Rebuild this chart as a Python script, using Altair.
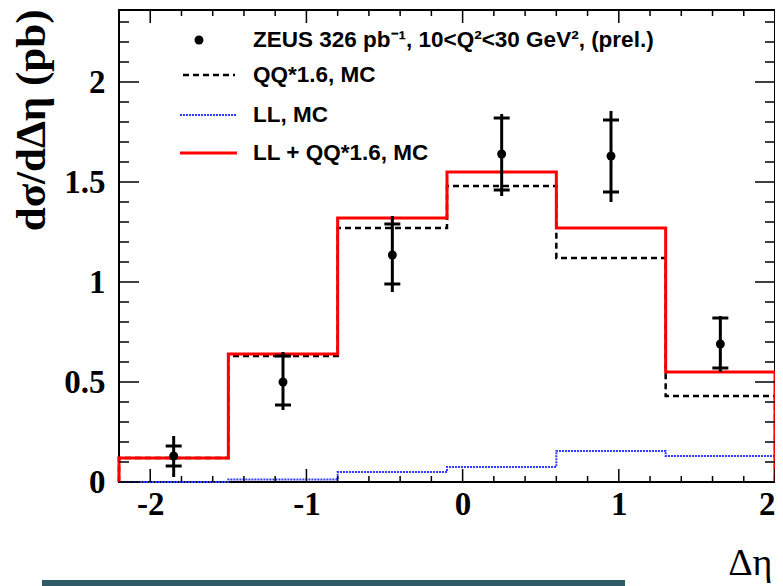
import altair as alt
import pandas as pd

# ---------------- data ----------------
edges = [-2.2, -1.5, -0.8, -0.1, 0.6, 1.3, 2.0]
ll_qq = [0.12, 0.64, 1.32, 1.55, 1.27, 0.55]   # LL + QQ*1.6, MC (red)
qq = [0.12, 0.63, 1.27, 1.48, 1.12, 0.43]      # QQ*1.6, MC (dashed)
ll = [0.0, 0.013, 0.05, 0.075, 0.155, 0.13]    # LL, MC (blue dotted)

x_data = [-1.85, -1.15, -0.45, 0.25, 0.95, 1.65]
y_data = [0.13, 0.50, 1.135, 1.64, 1.63, 0.69]
stat_lo = [0.08, 0.385, 0.99, 1.46, 1.45, 0.57]
stat_hi = [0.18, 0.63, 1.29, 1.82, 1.81, 0.82]
tot_lo = [0.025, 0.36, 0.95, 1.43, 1.40, 0.55]
tot_hi = [0.23, 0.65, 1.33, 1.84, 1.855, 0.83]

x_major = [-2, -1, 0, 1, 2]
x_minor = [-1.8, -1.6, -1.4, -1.2, -0.8, -0.6, -0.4, -0.2,
           0.2, 0.4, 0.6, 0.8, 1.2, 1.4, 1.6, 1.8]
y_major = [0, 0.5, 1, 1.5, 2]
y_minor = [0.1, 0.2, 0.3, 0.4, 0.6, 0.7, 0.8, 0.9, 1.1, 1.2, 1.3, 1.4,
           1.6, 1.7, 1.8, 1.9, 2.1, 2.2, 2.3]

legend_labels = [
    "ZEUS 326 pb\u207b\u00b9, 10<Q\u00b2<30 GeV\u00b2, (prel.)",
    "QQ*1.6, MC",
    "LL, MC",
    "LL + QQ*1.6, MC",
]

W, H = 656, 472
SERIF = "Liberation Serif"
SANS = "Liberation Sans"

xs = alt.Scale(domain=[edges[0], edges[-1]], nice=False, zero=False)
ys = alt.Scale(domain=[0, 2.36], nice=False, zero=False)


def step_df(vals):
    px = [edges[0]] + edges[:-1] + [edges[-1], edges[-1]]
    py = [0] + list(vals) + [vals[-1], 0]
    return pd.DataFrame({"x": px, "y": py, "i": list(range(len(px)))})


def x_axis():
    return alt.Axis(
        values=x_major,
        labelExpr="datum.value < 0 ? '-' + abs(datum.value) : '' + datum.value",
        labelFont=SERIF, labelFontWeight="bold", labelFontSize=33, labelColor="black",
        labelPadding=6, ticks=False, domain=False, grid=False,
        title="\u0394\u03b7", titleFont=SERIF, titleFontWeight="normal", titleFontSize=38,
        titleColor="black", titleX=653, titleY=92, titleAlign="right",
        titleBaseline="alphabetic",
    )


def y_axis():
    return alt.Axis(
        values=y_major,
        labelExpr="'' + datum.value",
        labelFont=SERIF, labelFontWeight="bold", labelFontSize=33, labelColor="black",
        labelPadding=14, ticks=False, domain=False, grid=False,
        title="d\u03c3/d\u0394\u03b7 (pb)", titleFont=SERIF, titleFontWeight="bold",
        titleFontSize=43, titleColor="black", titleAngle=270, titleX=-75, titleY=-1,
        titleAlign="right", titleBaseline="alphabetic",
    )


def X(field):
    return alt.X(field, scale=xs, axis=x_axis(), title="\u0394\u03b7")


def Y(field):
    return alt.Y(field, scale=ys, axis=y_axis(), title="d\u03c3/d\u0394\u03b7 (pb)")


def step_layer(vals, color, width, dash=None):
    kw = dict(interpolate="step-after", color=color, strokeWidth=width)
    if dash is not None:
        kw["strokeDash"] = dash
    return alt.Chart(step_df(vals)).mark_line(**kw).encode(
        x=X("x:Q"), y=Y("y:Q"), order="i:Q",
    )


blue = step_layer(ll, "#2f3cff", 2, [2, 1])
black = step_layer(qq, "black", 2.5, [6, 4])
red = step_layer(ll_qq, "#ff0000", 3)

pts = pd.DataFrame({"x": x_data, "y": y_data, "lo": tot_lo, "hi": tot_hi})
err = alt.Chart(pts).mark_rule(color="black", strokeWidth=3).encode(
    x=X("x:Q"), y=Y("lo:Q"), y2="hi:Q",
)
stat = pd.DataFrame({"x": x_data + x_data, "y": stat_lo + stat_hi})
stat_ticks = alt.Chart(stat).mark_tick(
    orient="horizontal", size=16, thickness=3, color="black", opacity=1
).encode(x=X("x:Q"), y=Y("y:Q"))
dots = alt.Chart(pts).mark_circle(size=80, color="black", opacity=1).encode(
    x=X("x:Q"), y=Y("y:Q"),
)


# ---- ROOT-style inside ticks on all four sides ----
def xticks(vals, length):
    d = pd.DataFrame({"v": vals})
    bottom = alt.Chart(d).mark_rule(color="black", strokeWidth=1.5).encode(
        x=X("v:Q"), y=alt.value(H), y2=alt.value(H - length),
    )
    top = alt.Chart(d).mark_rule(color="black", strokeWidth=1.5).encode(
        x=X("v:Q"), y=alt.value(0), y2=alt.value(length),
    )
    return [bottom, top]


def yticks(vals, length):
    d = pd.DataFrame({"v": vals})
    left = alt.Chart(d).mark_rule(color="black", strokeWidth=1.5).encode(
        y=Y("v:Q"), x=alt.value(0), x2=alt.value(length),
    )
    right = alt.Chart(d).mark_rule(color="black", strokeWidth=1.5).encode(
        y=Y("v:Q"), x=alt.value(W), x2=alt.value(W - length),
    )
    return [left, right]


ticks = xticks(x_major, 13) + xticks(x_minor, 6) + yticks(y_major, 20) + yticks(y_minor, 10)

# ---- legend (drawn by hand, ROOT style) ----
leg_y = [30, 65, 105, 143]
leg_text = [
    alt.Chart(pd.DataFrame({"t": [lab]})).mark_text(
        font=SANS, fontWeight="bold", fontSize=22.5, align="left", baseline="middle",
        color="black",
    ).encode(text="t:N", x=alt.value(134), y=alt.value(yy))
    for lab, yy in zip(legend_labels, leg_y)
]
one = pd.DataFrame({"k": [0]})
leg_dot = alt.Chart(one).mark_circle(size=80, color="black", opacity=1).encode(
    x=alt.value(80), y=alt.value(leg_y[0]))
leg_dash = alt.Chart(one).mark_rule(color="black", strokeWidth=2.5, strokeDash=[6, 4]).encode(
    x=alt.value(64), x2=alt.value(116), y=alt.value(leg_y[1]))
leg_blue = alt.Chart(one).mark_rule(color="#2f3cff", strokeWidth=2, strokeDash=[2, 1]).encode(
    x=alt.value(61), x2=alt.value(118), y=alt.value(leg_y[2]))
leg_red = alt.Chart(one).mark_rule(color="#ff0000", strokeWidth=3).encode(
    x=alt.value(61), x2=alt.value(118), y=alt.value(leg_y[3]))

# decorative slide bar under the plot
bar = alt.Chart(one).mark_rule(color="#2f5b67", strokeWidth=6).encode(
    x=alt.value(-77), x2=alt.value(506), y=alt.value(573))

chart = alt.layer(
    blue, black, red, err, stat_ticks, dots, *ticks,
    *leg_text, leg_dot, leg_dash, leg_blue, leg_red, bar,
).properties(
    width=W, height=H,
    autosize=alt.AutoSizeParams(type="none"),
    padding={"left": 111, "top": 2, "right": 0, "bottom": 104},
).configure_view(stroke="black", strokeWidth=2)

chart.save("out.html", embed_options={"renderer": "svg", "actions": False})
